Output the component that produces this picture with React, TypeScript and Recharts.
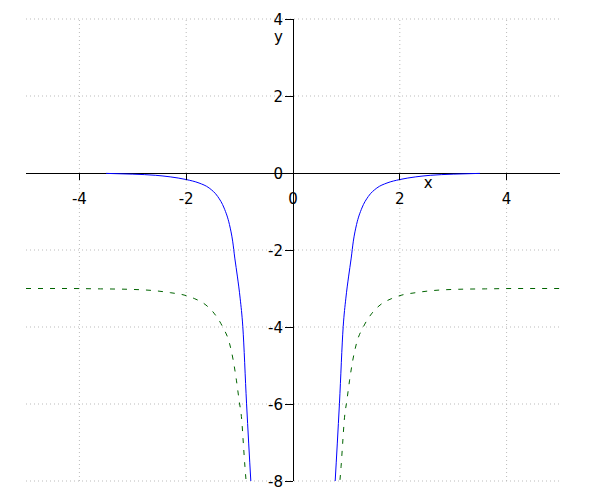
import React from 'react';
import { LineChart, Line, XAxis, YAxis, ReferenceLine, ReferenceDot } from 'recharts';

// right-hand halves, both curves are mirrored about x = 0
const blueX = [0.79, 0.87, 0.94, 0.99, 1.04, 1.09, 1.13, 1.19, 1.29, 1.41, 1.57, 1.76, 2.0, 2.3, 2.57, 3.0, 3.5];
const blueY = [-8, -5.98, -3.99, -3.25, -2.7, -2.21, -1.77, -1.34, -0.91, -0.61, -0.39, -0.26, -0.17, -0.1, -0.06, -0.03, -0.01];

const greenX = [0.88, 0.9, 0.93, 0.96, 1.01, 1.06, 1.12, 1.19, 1.32, 1.48, 1.63, 1.85, 2.04, 2.29, 2.57, 3.1, 3.6, 4.2, 5.0];
const greenY = [-7.97, -7.63, -7.02, -6.42, -5.9, -5.38, -4.86, -4.42, -3.99, -3.64, -3.43, -3.26, -3.17, -3.11, -3.06, -3.02, -3.01, -3.0, -3.0];

const xTicks = [-4, -2, 0, 2, 4];
const yTicks = [-8, -6, -4, -2, 0, 2, 4];

const FONT = 'DejaVu Sans, sans-serif';

const half = (xs: number[], ys: number[], sign: number) =>
  xs.map((x, i) => ({ x: sign * x, y: ys[i] })).sort((a, b) => a.x - b.x);

const blueLeft = half(blueX, blueY, -1);
const blueRight = half(blueX, blueY, 1);
const greenLeft = half(greenX, greenY, -1);
const greenRight = half(greenX, greenY, 1);

const xTickShape = (label: number) => (p: any) => (
  <g>
    <line x1={p.cx} y1={p.cy} x2={p.cx} y2={p.cy + 7} stroke="#000" shapeRendering="crispEdges" />
    <text x={p.cx} y={p.cy + 31} textAnchor="middle" fontSize={15} fontFamily={FONT} fill="#000">
      {label}
    </text>
  </g>
);

const yTickShape = (label: number) => (p: any) => (
  <g>
    <line x1={p.cx} y1={p.cy} x2={p.cx - 8} y2={p.cy} stroke="#000" shapeRendering="crispEdges" />
    <text x={p.cx - 10} y={p.cy + 5.5} textAnchor="end" fontSize={15} fontFamily={FONT} fill="#000">
      {label}
    </text>
  </g>
);

const xLabelShape = (p: any) => (
  <text x={p.cx} y={p.cy + 15} textAnchor="middle" fontSize={15} fontFamily={FONT} fill="#000">x</text>
);

const yLabelShape = (p: any) => (
  <text x={p.cx - 10} y={p.cy + 23} textAnchor="end" fontSize={15} fontFamily={FONT} fill="#000">y</text>
);

export default function App() {
  return (
    <div style={{ width: 584, height: 484 }}>
      <LineChart width={584} height={484} margin={{ top: 11, right: 32, bottom: 11, left: 18 }}>
        <XAxis type="number" dataKey="x" domain={[-5, 5]} ticks={xTicks} allowDataOverflow hide />
        <YAxis type="number" dataKey="y" domain={[-8, 4]} ticks={yTicks} allowDataOverflow hide />

        {/* dotted grid at the tick values only */}
        {xTicks.filter((t) => t !== 0).map((t) => (
          <ReferenceLine key={'gx' + t} x={t} stroke="#bbb" strokeDasharray="1 3" />
        ))}
        {yTicks.filter((t) => t !== 0).map((t) => (
          <ReferenceLine key={'gy' + t} y={t} stroke="#bbb" strokeDasharray="1 3" />
        ))}
        <ReferenceLine y={0} stroke="#000" shapeRendering="crispEdges" />
        <ReferenceLine x={0} stroke="#000" shapeRendering="crispEdges" />

        <Line data={greenLeft} dataKey="y" type="monotone" stroke="#006400" strokeDasharray="5 7" dot={false} isAnimationActive={false} />
        <Line data={greenRight} dataKey="y" type="monotone" stroke="#006400" strokeDasharray="5 7" dot={false} isAnimationActive={false} />
        <Line data={blueLeft} dataKey="y" type="monotone" stroke="#0000ff" dot={false} isAnimationActive={false} />
        <Line data={blueRight} dataKey="y" type="monotone" stroke="#0000ff" dot={false} isAnimationActive={false} />

        {xTicks.map((t) => (
          <ReferenceDot key={'x' + t} x={t} y={0} r={0} shape={xTickShape(t)} />
        ))}
        {yTicks.map((t) => (
          <ReferenceDot key={'y' + t} x={0} y={t} r={0} shape={yTickShape(t)} />
        ))}
        <ReferenceDot x={2.53} y={0} r={0} shape={xLabelShape} />
        <ReferenceDot x={0} y={4} r={0} shape={yLabelShape} />
      </LineChart>
    </div>
  );
}
